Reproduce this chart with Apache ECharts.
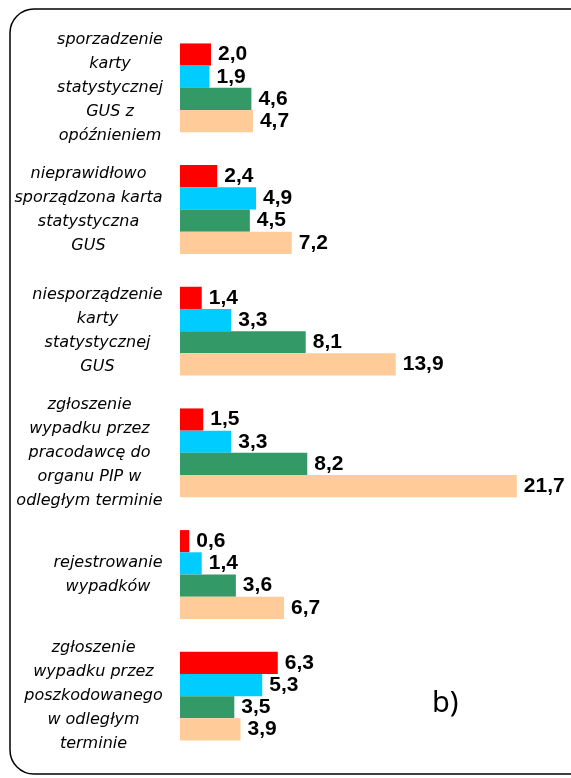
<!DOCTYPE html>
<html>
<head>
<meta charset="utf-8">
<script src="https://cdn.jsdelivr.net/npm/echarts@6/dist/echarts.min.js"></script>
<style>
  html, body { margin: 0; padding: 0; background: #fff; }
  #chart { width: 571px; height: 778px; }
</style>
</head>
<body>
<div id="chart"></div>
<script>
// kategorie (linie jak w oryginale)
var categories = [
  'sporzadzenie\nkarty\nstatystycznej\nGUS z\nopóźnieniem',
  'nieprawidłowo\nsporządzona karta\nstatystyczna\nGUS',
  'niesporządzenie\nkarty\nstatystycznej\nGUS',
  'zgłoszenie\nwypadku przez\npracodawcę do\norganu PIP w\nodległym terminie',
  'rejestrowanie\nwypadków',
  'zgłoszenie\nwypadku przez\nposzkodowanego\nw odległym\nterminie'
];
var red   = [2.0, 2.4, 1.4, 1.5, 0.6, 6.3];
var cyan  = [1.9, 4.9, 3.3, 3.3, 1.4, 5.3];
var green = [4.6, 4.5, 8.1, 8.2, 3.6, 3.5];
var peach = [4.7, 7.2, 13.9, 21.7, 6.7, 3.9];

var labelFont = 'italic 16px "DejaVu Sans"';

// szerokosc bloku etykiety = najdluzsza linia
var ctx = document.createElement('canvas').getContext('2d');
ctx.font = labelFont;
var rich = {};
categories.forEach(function (c, i) {
  var w = 0;
  c.split('\n').forEach(function (l) { w = Math.max(w, ctx.measureText(l).width); });
  rich['c' + i] = {
    width: Math.ceil(w),
    align: 'center',
    fontSize: 16,
    fontStyle: 'italic',
    fontFamily: 'DejaVu Sans',
    lineHeight: 24,
    color: '#000'
  };
});

function bar(name, data, color) {
  return {
    name: name,
    type: 'bar',
    data: data,
    barGap: '0%',
    barCategoryGap: '27%',
    itemStyle: { color: color },
    label: {
      show: true,
      position: 'right',
      distance: 7,
      color: '#000',
      fontWeight: 'bold',
      fontSize: 21,
      fontFamily: 'Liberation Sans',
      formatter: function (p) { return p.value.toFixed(1).replace('.', ','); }
    }
  };
}

var myChart = echarts.init(document.getElementById('chart'));
var option = {
  animation: false,
  backgroundColor: '#fff',
  grid: { left: 180, top: 27, width: 388, height: 730 },
  xAxis: { type: 'value', min: 0, max: 25, show: false },
  yAxis: {
    type: 'category',
    inverse: true,
    data: categories,
    axisLine: { show: false },
    axisTick: { show: false },
    axisLabel: {
      align: 'right',
      margin: 17,
      rich: rich,
      formatter: function (v, i) {
        return v.split('\n').map(function (l) { return '{c' + i + '|' + l + '}'; }).join('\n');
      }
    }
  },
  series: [
    bar('seria 1', red, '#ff0000'),
    bar('seria 2', cyan, '#00ccff'),
    bar('seria 3', green, '#339966'),
    bar('seria 4', peach, '#ffcc99')
  ],
  graphic: [
    {
      type: 'rect',
      silent: true,
      shape: { x: 10, y: 9, width: 585, height: 765, r: 24 },
      style: { fill: 'none', stroke: '#000', lineWidth: 1.5 }
    },
    {
      type: 'text',
      left: 432,
      top: 689,
      style: { text: 'b)', font: '29px "Noto Sans"', fill: '#000' }
    }
  ]
};
myChart.setOption(option);
</script>
</body>
</html>
